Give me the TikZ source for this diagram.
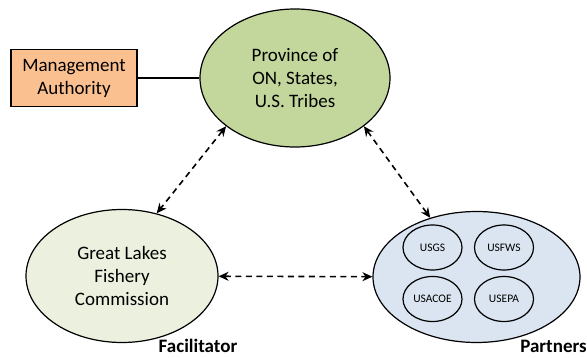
\documentclass[tikz,border=0pt]{standalone}
\usepackage{fontspec}
\setmainfont{Carlito}
\usetikzlibrary{arrows.meta,shapes.geometric}
\definecolor{provgreen}{HTML}{C3D69B}
\definecolor{authorange}{HTML}{FAC090}
\definecolor{glfcgreen}{HTML}{EBF1DE}
\definecolor{partblue}{HTML}{DBE5F1}
\tikzset{
	bigoval/.style={ellipse, draw, line width=1.2pt, inner sep=0pt, align=center,
			font=\fontsize{19}{23}\selectfont},
	agency/.style={ellipse, draw, line width=1.2pt, fill=partblue, inner sep=0pt,
			minimum width=59pt, minimum height=45pt, font=\fontsize{11.5}{13}\selectfont},
	rolelabel/.style={anchor=base, font=\fontsize{19}{23}\selectfont\bfseries},
	link/.style={line width=1.6pt, dash pattern=on 6pt off 4.5pt,
			{Stealth[length=10pt,width=9pt]}-{Stealth[length=10pt,width=9pt]}}
}

\begin{document}
\begin{tikzpicture}[x=1pt, y=-1pt]
		\useasboundingbox (0,0) rectangle (587,358);

		% Main ellipses
		\node[bigoval, fill=provgreen, minimum width=190pt, minimum height=138pt] (prov) at (295,78) {Province of\\ON, States,\\U.S. Tribes};
		\node[bigoval, fill=glfcgreen, minimum width=192pt, minimum height=133pt] (glfc) at (122,276) {Great Lakes\\Fishery\\Commission};
		\node[bigoval, fill=partblue, minimum width=207pt, minimum height=131pt] (part) at (476.5,277) {};

		% Management authority
		\node[draw, line width=1.2pt, fill=authorange, align=center, minimum width=126pt, minimum height=57pt,
			font=\fontsize{19}{23}\selectfont] (auth) at (74,78) {Management\\Authority};
		\draw[line width=1.6pt] (auth) -- (prov);

		% Partner agencies
		\node[agency] (usgs) at (432.5,247.5) {USGS};
		\node[agency] (usfws) at (504,247.5) {USFWS};
		\node[agency] (usacoe) at (432.5,299) {USACOE};
		\node[agency] (usepa) at (504,299) {USEPA};

		% Links
		\draw[link] (prov.215) -- (glfc.61);
		\draw[link] (prov.-35) -- (part.128);
		\draw[link] (glfc) -- (part);

		% Labels
		\node[rolelabel] (facil) at (198,353) {Facilitator};
		\node[rolelabel] (partl) at (553.5,353) {Partners};
	\end{tikzpicture}
\end{document}
